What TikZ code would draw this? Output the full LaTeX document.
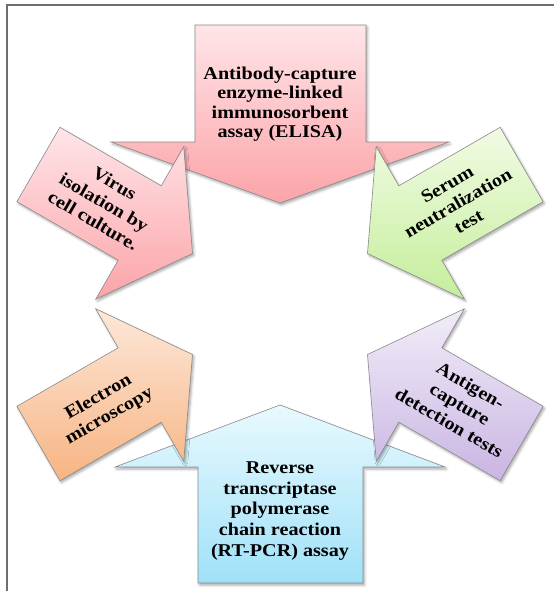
\documentclass[tikz,border=0pt]{standalone}
\usepackage{fontspec}
\usetikzlibrary{shadows.blur}
\newfontfamily\boxfont[FakeStretch=1.12]{Liberation Serif}

\definecolor{framegray}{HTML}{6E6E6E}
\definecolor{edgegray}{HTML}{8A8A8A}
\definecolor{pinktop}{HTML}{FFE5E8}
\definecolor{pinkbot}{HTML}{FBA4A9}
\definecolor{greentop}{HTML}{F1FBE4}
\definecolor{greenbot}{HTML}{C5EE9B}
\definecolor{orangetop}{HTML}{FDE8D8}
\definecolor{orangebot}{HTML}{F7B483}
\definecolor{purpletop}{HTML}{F2EDF9}
\definecolor{purplebot}{HTML}{C9B5E2}
\definecolor{bluetop}{HTML}{E8F9FE}
\definecolor{bluebot}{HTML}{A0E1F8}

\begin{document}
\begin{tikzpicture}[
    x=1pt, y=-1pt,
    blockarrow/.style={draw=edgegray, line width=0.6pt, line join=miter,
        blur shadow={shadow xshift=1.5pt, shadow yshift=-2pt,
                     shadow blur radius=2.5pt, shadow opacity=35}},
    txt/.style={align=center, inner sep=0pt,
        font=\boxfont\bfseries\fontsize{18}{21.5}\selectfont},
    midtxt/.style={txt, font=\boxfont\bfseries\fontsize{18}{19.4}\selectfont},
    lowtxt/.style={txt, font=\boxfont\bfseries\fontsize{18}{20.8}\selectfont}
]
\useasboundingbox (0,0) rectangle (554,591);

% frame (top and left side only)
\draw[framegray, line width=2.5pt] (554,5) -- (7,5) -- (7,591);

% Top arrow, pointing down
\shade[blockarrow, top color=pinktop, bottom color=pinkbot]
    (195,25) -- (366,25) -- (366,142) -- (449,142) -- (280,203)
    -- (111,142) -- (195,142) -- cycle;

% Bottom arrow, pointing up
\shade[blockarrow, top color=bluetop, bottom color=bluebot]
    (198,583) -- (363,583) -- (363,467) -- (445,467) -- (280,405)
    -- (115,467) -- (198,467) -- cycle;

% Upper left arrow
\shade[blockarrow, top color=pinktop, bottom color=pinkbot]
    (59.9,127.3) -- (161.2,185.8) -- (183.7,146.8) -- (192.5,253.5)
    -- (95.7,299.2) -- (118.2,260.2) -- (16.9,201.7) -- cycle;

% Upper right arrow
\shade[blockarrow, top color=greentop, bottom color=greenbot]
    (500.1,127.3) -- (398.8,185.8) -- (376.3,146.8) -- (367.5,253.5)
    -- (464.3,299.2) -- (441.8,260.2) -- (543.1,201.7) -- cycle;

% Lower left arrow
\shade[blockarrow, top color=orangetop, bottom color=orangebot]
    (59.9,480.7) -- (161.2,422.2) -- (183.7,461.2) -- (192.5,354.5)
    -- (95.7,308.8) -- (118.2,347.8) -- (16.9,406.3) -- cycle;

% Lower right arrow
\shade[blockarrow, top color=purpletop, bottom color=purplebot]
    (500.1,480.7) -- (398.8,422.2) -- (376.3,461.2) -- (367.5,354.5)
    -- (464.3,308.8) -- (441.8,347.8) -- (543.1,406.3) -- cycle;

% Labels
\node[midtxt] (elisa) at (280,104)
    {Antibody-capture\\enzyme-linked\\immunosorbent\\assay (ELISA)};
\node[lowtxt] (rtpcr) at (280,511)
    {Reverse\\transcriptase\\polymerase\\chain reaction\\(RT-PCR) assay};
\node[txt, rotate=-30] (virus) at (104,202)
    {Virus\\isolation by\\cell culture.};
\node[txt, rotate=30] (serum) at (458,203)
    {Serum\\neutralization\\test};
\node[txt, rotate=30] (electron) at (104,407)
    {Electron\\microscopy};
\node[txt, rotate=-30] (antigen) at (460,404)
    {Antigen-\\capture\\detection tests};

\end{tikzpicture}
\end{document}
